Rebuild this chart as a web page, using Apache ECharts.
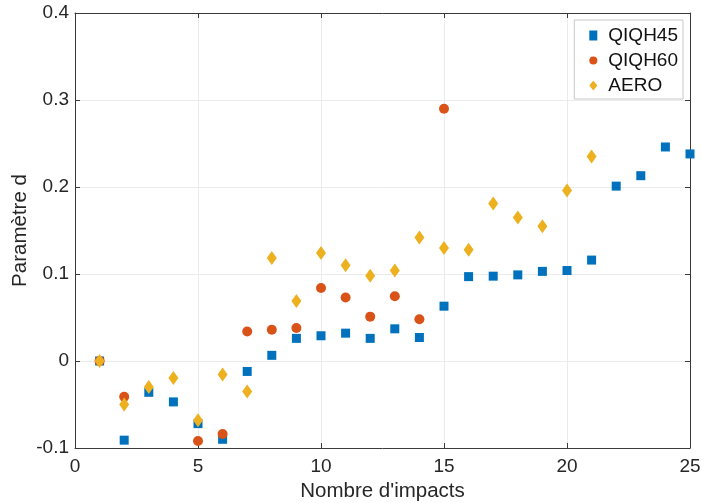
<!DOCTYPE html>
<html><head><meta charset="utf-8">
<script src="https://cdn.jsdelivr.net/npm/echarts@6/dist/echarts.min.js"></script>
<style>html,body{margin:0;padding:0;background:#fff}#c{width:702px;height:503px}</style>
</head><body><div id="c"></div>
<script>
const qiqh45X = [1,2,3,4,5,6,7,8,9,10,11,12,13,14,15,16,17,18,19,20,21,22,23,24,25];
const qiqh45Y = [0,-0.091,-0.036,-0.047,-0.072,-0.090,-0.012,0.0065,0.026,0.029,0.032,0.026,0.037,0.027,0.063,0.097,0.0975,0.099,0.103,0.104,0.116,0.201,0.213,0.246,0.238];
const qiqh60X = [1,2,5,6,7,8,9,10,11,12,13,14,15];
const qiqh60Y = [0,-0.041,-0.092,-0.084,0.034,0.036,0.038,0.084,0.073,0.051,0.0745,0.048,0.290];
const aeroX = [1,2,3,4,5,6,7,8,9,10,11,12,13,14,15,16,17,18,19,20,21];
const aeroY = [0,-0.050,-0.030,-0.0195,-0.068,-0.0155,-0.035,0.1185,0.069,0.124,0.110,0.098,0.104,0.142,0.130,0.128,0.181,0.165,0.155,0.196,0.235];
const seriesNames = ['QIQH45','QIQH60','AERO'];
const colors = ['#0072BD','#D95319','#EDB120'];

const pair = (xs, ys) => xs.map((x,i)=>[x, ys[i]]);
const font = 'Liberation Sans, Arial, sans-serif';
const chart = echarts.init(document.getElementById('c'), null, {renderer:'canvas'});
const axisLineStyle = {show:true, onZero:false, lineStyle:{color:'#3a3a3a', width:1}};
const tick = {show:true, inside:true, length:5, lineStyle:{color:'#3a3a3a'}};
const baseX = {type:'value', min:0, max:25, interval:5};
const baseY = {type:'value', min:-0.1, max:0.4, interval:0.1};
chart.setOption({
  animation:false,
  backgroundColor:'#fff',
  grid:{left:75, right:12, top:13, bottom:55, containLabel:false, outerBoundsMode:'none'},
  legend:{
    data:[
      {name:seriesNames[0], icon:'rect'},
      {name:seriesNames[1], icon:'circle'},
      {name:seriesNames[2], icon:'diamond'}
    ],
    orient:'vertical', right:19, top:20,
    backgroundColor:'#fff', borderColor:'#c8c8c8', borderWidth:1, borderRadius:0,
    padding:[6,5,4,15], itemGap:6, itemWidth:8, itemHeight:10,
    textStyle:{fontFamily:font, fontSize:19, color:'#111', padding:[0,0,0,6]}
  },
  xAxis:[
    Object.assign({}, baseX, {
      position:'bottom', name:"Nombre d'impacts", nameLocation:'middle', nameGap:33,
      nameMoveOverlap:false,
      nameTextStyle:{fontFamily:font, fontSize:20.5, color:'#262626'},
      axisLine:axisLineStyle, axisTick:tick,
      axisLabel:{fontFamily:font, fontSize:19, color:'#262626', margin:9},
      splitLine:{show:true, lineStyle:{color:'#ebebeb', width:1}}
    }),
    Object.assign({}, baseX, {
      position:'top', axisLine:axisLineStyle, axisTick:tick,
      axisLabel:{show:false}, splitLine:{show:false}
    })
  ],
  yAxis:[
    Object.assign({}, baseY, {
      position:'left', name:'Paramètre d', nameLocation:'middle', nameGap:44,
      nameMoveOverlap:false,
      nameTextStyle:{fontFamily:font, fontSize:20.5, color:'#262626'},
      axisLine:axisLineStyle, axisTick:tick,
      axisLabel:{fontFamily:font, fontSize:19, color:'#262626', margin:6,
        formatter:v=>String(Math.round(v*10)/10)},
      splitLine:{show:true, lineStyle:{color:'#ebebeb', width:1}}
    }),
    Object.assign({}, baseY, {
      position:'right', axisLine:axisLineStyle, axisTick:tick,
      axisLabel:{show:false}, splitLine:{show:false}
    })
  ],
  series:[
    {name:seriesNames[0], type:'scatter', data:pair(qiqh45X,qiqh45Y), symbol:'rect', symbolSize:9, itemStyle:{color:colors[0], opacity:1}},
    {name:seriesNames[1], type:'scatter', data:pair(qiqh60X,qiqh60Y), symbol:'circle', symbolSize:10, itemStyle:{color:colors[1], opacity:1}},
    {name:seriesNames[2], type:'scatter', data:pair(aeroX,aeroY), symbol:'diamond', symbolSize:[10,14], itemStyle:{color:colors[2], opacity:1}}
  ]
});
</script></body></html>
